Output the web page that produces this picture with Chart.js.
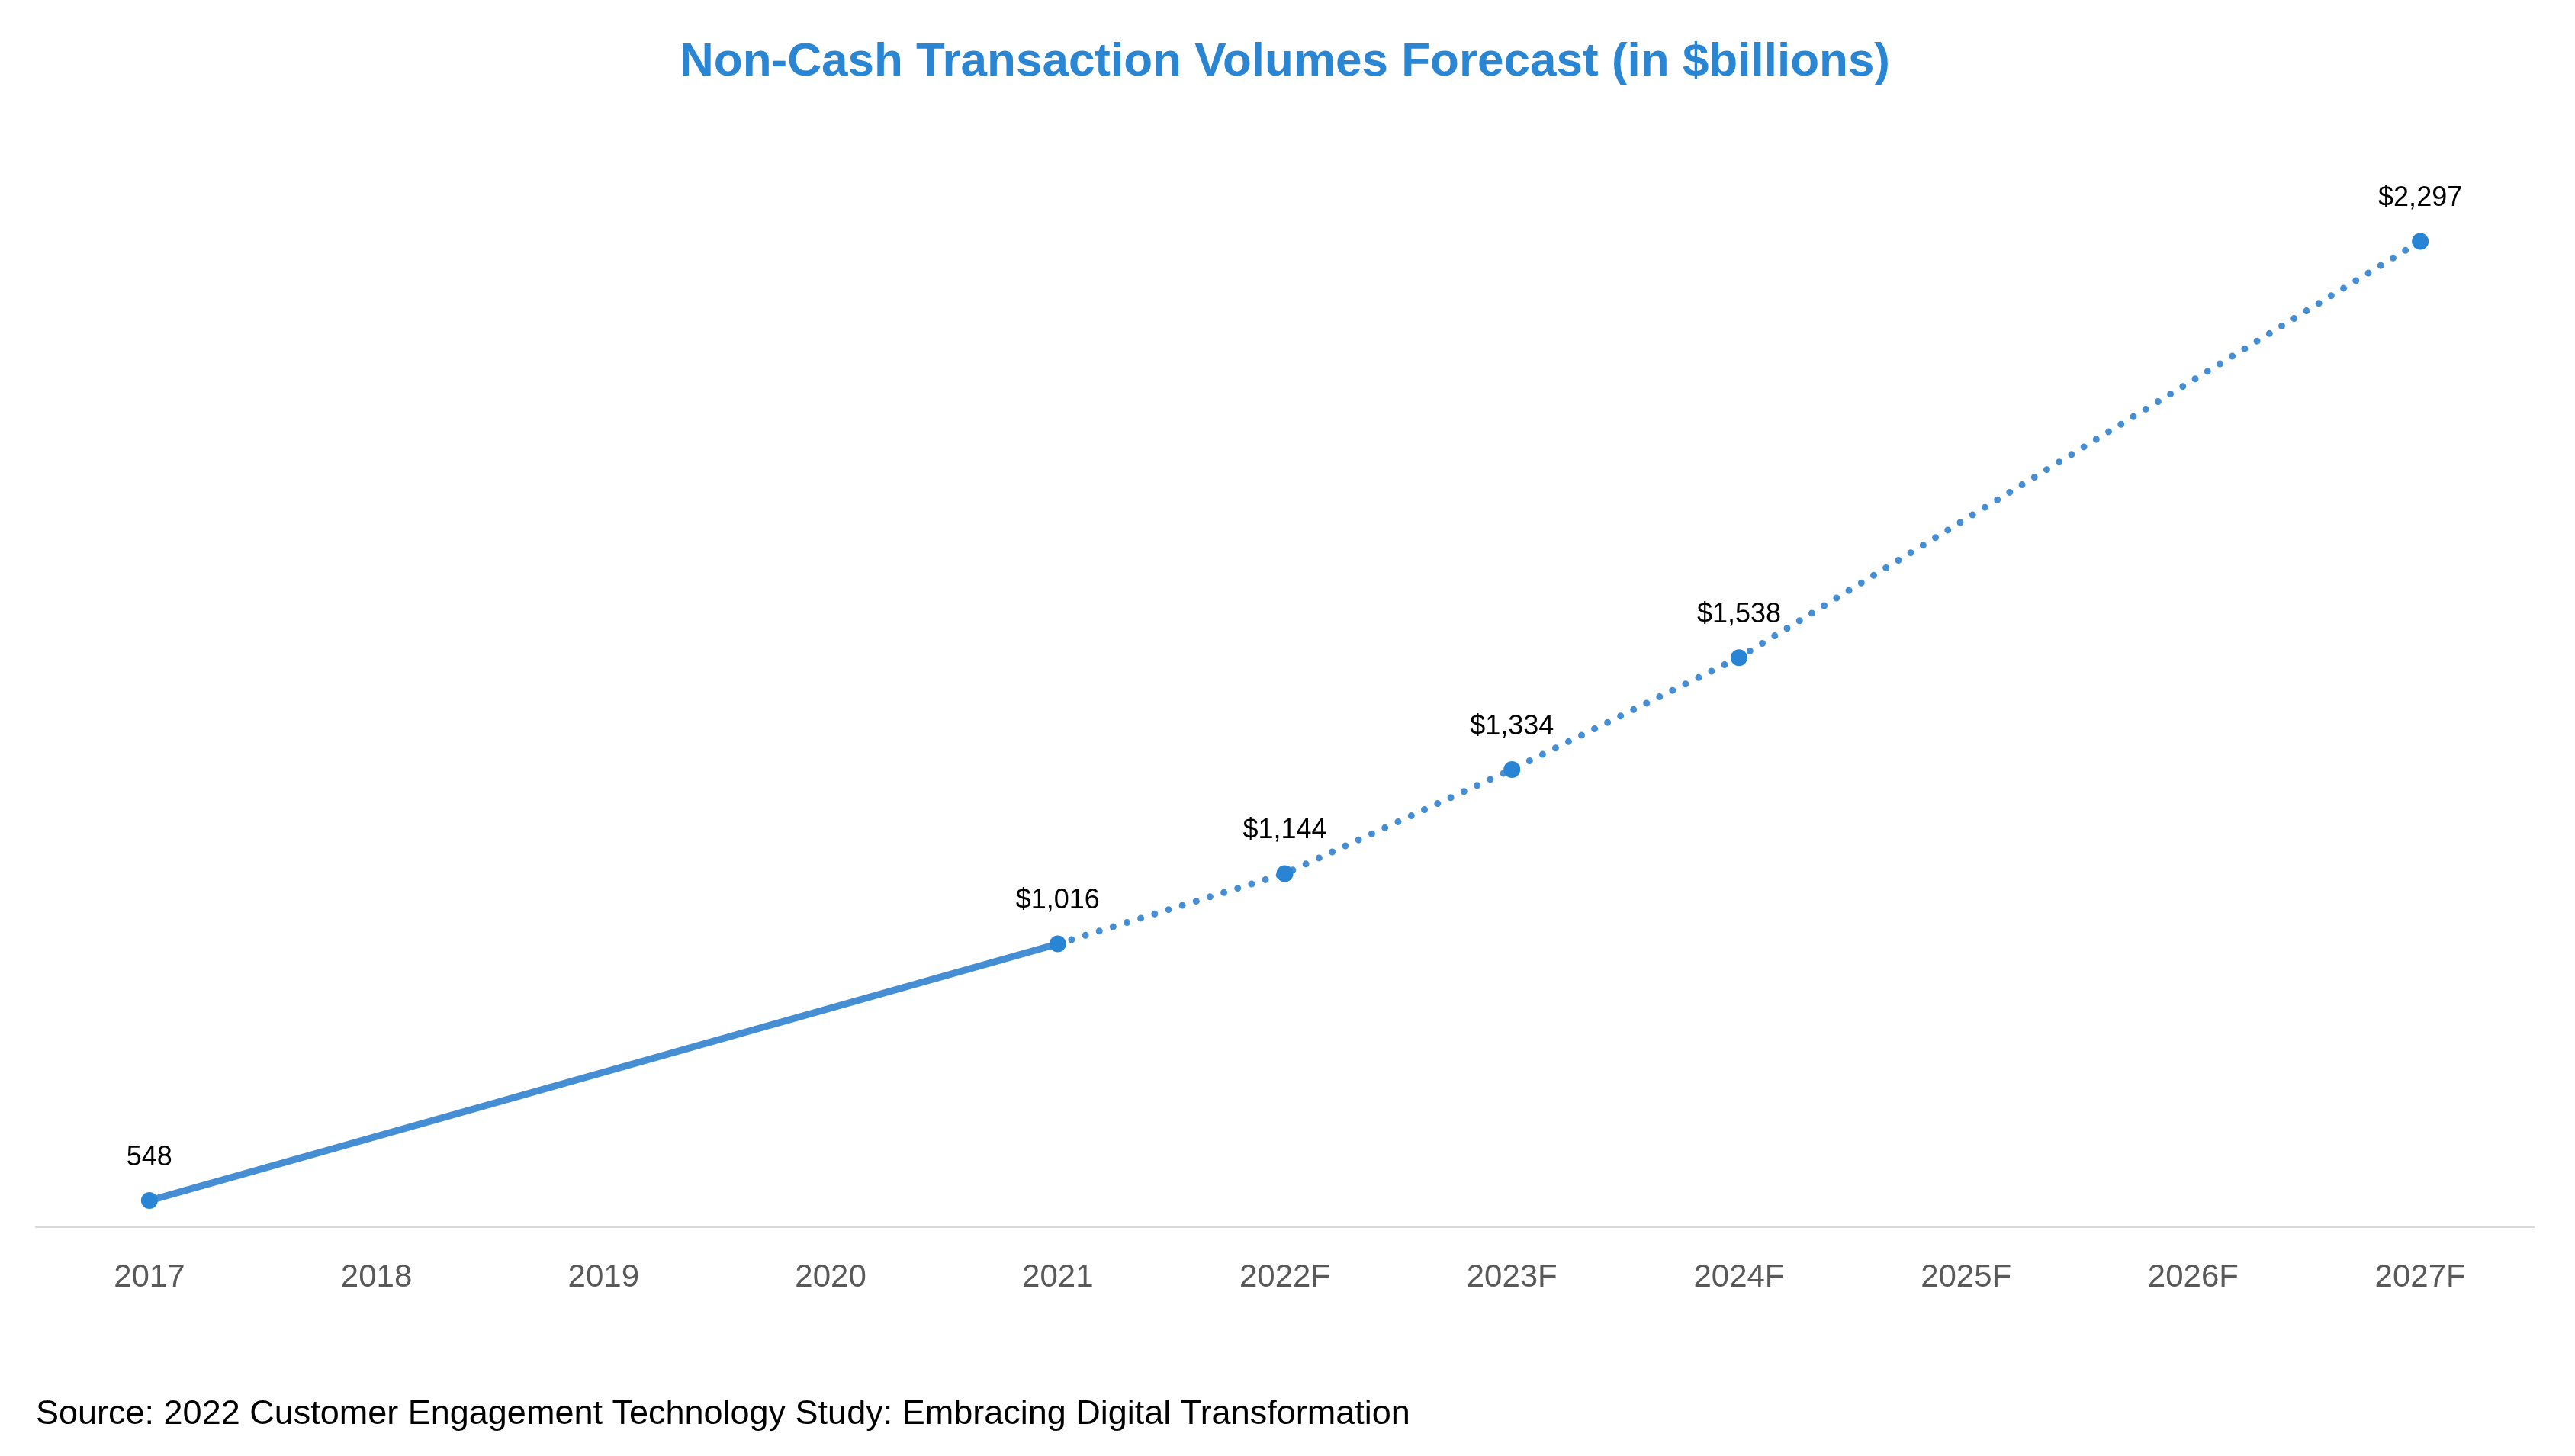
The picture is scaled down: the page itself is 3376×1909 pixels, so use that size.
<!DOCTYPE html>
<html>
<head>
<meta charset="utf-8">
<script src="https://cdn.jsdelivr.net/npm/chart.js@4.4.1/dist/chart.umd.min.js"></script>
<style>
  html, body { margin: 0; padding: 0; background: #fff; }
  #wrap { width: 3376px; height: 1909px; }
</style>
</head>
<body>
<div id="wrap"><canvas id="chart"></canvas></div>
<script>
// data
const years = ['2017', '2018', '2019', '2020', '2021', '2022F', '2023F', '2024F', '2025F', '2026F', '2027F'];
const volumes = [548, null, null, null, 1016, 1144, 1334, 1538, null, null, 2297];
const pointLabels = ['548', null, null, null, '$1,016', '$1,144', '$1,334', '$1,538', null, null, '$2,297'];
const firstForecast = 4; // dotted from 2021 onward

const FONT = "'Liberation Sans', Arial, sans-serif";

// labels above the points
const valueLabels = {
  id: 'valueLabels',
  afterDatasetsDraw(chart) {
    const ctx = chart.ctx;
    const meta = chart.getDatasetMeta(0);
    ctx.save();
    ctx.font = '36px ' + FONT;
    ctx.fillStyle = '#000';
    ctx.textAlign = 'center';
    ctx.textBaseline = 'middle';
    meta.data.forEach((pt, i) => {
      if (pointLabels[i] == null) return;
      ctx.fillText(pointLabels[i], pt.x, pt.y - 56);
    });
    ctx.restore();
  }
};

new Chart(document.getElementById('chart'), {
  type: 'line',
  data: {
    labels: years,
    datasets: [{
      data: volumes,
      borderColor: '#468ed4',
      backgroundColor: '#2985d4',
      pointBackgroundColor: '#2985d4',
      pointBorderWidth: 0,
      pointRadius: 11,
      borderWidth: 9,
      borderCapStyle: 'round',
      spanGaps: true,
      tension: 0,
      segment: {
        borderDash: c => c.p0DataIndex >= firstForecast ? [0, 19] : undefined
      }
    }]
  },
  options: {
    responsive: true,
    maintainAspectRatio: false,
    animation: false,
    layout: { padding: { left: 47, right: 54, top: 0, bottom: 0 } },
    plugins: {
      legend: { display: false },
      tooltip: { enabled: false },
      title: {
        display: true,
        text: 'Non-Cash Transaction Volumes Forecast (in $billions)',
        color: '#2a86d3',
        font: { family: FONT, size: 62, weight: 'bold' },
        padding: { top: 45, bottom: 123 }
      },
      subtitle: {
        display: true,
        position: 'bottom',
        align: 'start',
        text: 'Source: 2022 Customer Engagement Technology Study: Embracing Digital Transformation',
        color: '#000',
        font: { family: FONT, size: 45 },
        padding: { top: 85, bottom: 27 }
      }
    },
    scales: {
      x: {
        offset: true,
        grid: { display: false, drawTicks: false },
        border: { display: true, color: '#d9d9d9', width: 2 },
        ticks: { color: '#595959', font: { family: FONT, size: 42 }, padding: 42 }
      },
      y: {
        display: false,
        min: 500,
        max: 2400
      }
    }
  },
  plugins: [valueLabels]
});
</script>
</body>
</html>
